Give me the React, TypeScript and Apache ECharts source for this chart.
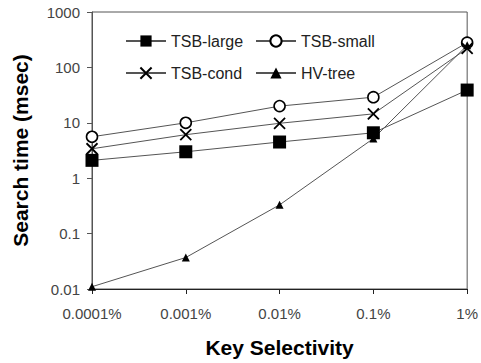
import React, { useEffect, useRef } from "react";
import * as echarts from "echarts";

const categories = ["0.0001%", "0.001%", "0.01%", "0.1%", "1%"];
const tsbLarge = [2.1, 3.0, 4.5, 6.6, 39];
const tsbSmall = [5.6, 10, 20, 29, 280];
const tsbCond = [3.4, 6.1, 9.8, 14.5, 220];
const hvTree = [0.011, 0.037, 0.33, 5.2, 250];
const yTicks = ["0.01", "0.1", "1", "10", "100", "1000"];

const CROSS = "path://M0,0L10,10M10,0L0,10";

export default function App() {
  const ref = useRef<HTMLDivElement>(null);
  useEffect(() => {
    const chart = echarts.init(ref.current!, null, { renderer: "svg" });
    const lineStyle = { color: "#555", width: 1 };
    const font = "'Liberation Sans', Arial, sans-serif";
    const legendText = { fontFamily: font, fontSize: 16, color: "#222" };
    chart.setOption({
      animation: false,
      textStyle: { fontFamily: font },
      grid: {
        left: 92, right: 9, top: 12, bottom: 71,
        show: true, borderColor: "#555", borderWidth: 1,
      },
      legend: [
        {
          data: ["TSB-large", "TSB-cond"],
          orient: "vertical",
          left: 125, top: 33, padding: 0,
          itemWidth: 40, itemHeight: 14, itemGap: 16,
          textStyle: legendText,
        },
        {
          data: ["TSB-small", "HV-tree"],
          orient: "vertical",
          left: 255, top: 33, padding: 0,
          itemWidth: 40, itemHeight: 14, itemGap: 16,
          textStyle: legendText,
        },
      ],
      xAxis: {
        type: "category",
        data: categories,
        boundaryGap: false,
        name: "Key Selectivity",
        nameLocation: "middle",
        nameGap: 48,
        nameTextStyle: { fontFamily: font, fontSize: 21, fontWeight: "bold", color: "#000" },
        axisLine: { lineStyle: { color: "#222", width: 1 } },
        axisTick: { alignWithLabel: true, length: 5, lineStyle: { color: "#222" } },
        axisLabel: { fontSize: 15, color: "#444", margin: 17, fontFamily: font },
        splitLine: { show: false },
      },
      yAxis: {
        type: "log",
        logBase: 10,
        min: 0.01,
        max: 1000,
        name: "Search time (msec)",
        nameLocation: "middle",
        nameGap: 61,
        nameTextStyle: { fontFamily: font, fontSize: 21, fontWeight: "bold", color: "#000" },
        axisLine: { show: true, lineStyle: { color: "#555", width: 1 } },
        axisTick: { show: true, length: 5, lineStyle: { color: "#555" } },
        axisLabel: {
          fontSize: 15, color: "#444", margin: 12, fontFamily: font,
          formatter: (v: number) => {
            const i = Math.round(Math.log10(v)) + 2;
            return yTicks[i] ?? String(v);
          },
        },
        splitLine: { show: false },
      },
      series: [
        {
          name: "TSB-large", type: "line", data: tsbLarge,
          symbol: "rect", symbolSize: 13,
          itemStyle: { color: "#000" }, lineStyle,
        },
        {
          name: "TSB-small", type: "line", data: tsbSmall,
          symbol: "circle", symbolSize: 11,
          itemStyle: { color: "#fff", borderColor: "#000", borderWidth: 1.6 }, lineStyle,
        },
        {
          name: "TSB-cond", type: "line", data: tsbCond,
          symbol: CROSS, symbolSize: 11,
          itemStyle: { color: "none", borderColor: "#000", borderWidth: 1.8 }, lineStyle,
        },
        {
          name: "HV-tree", type: "line", data: hvTree,
          symbol: "triangle", symbolSize: 8,
          itemStyle: { color: "#000" }, lineStyle,
        },
      ],
    });
    return () => chart.dispose();
  }, []);
  return <div ref={ref} style={{ width: 481, height: 363, position: "absolute", left: 0, top: 0 }} />;
}
